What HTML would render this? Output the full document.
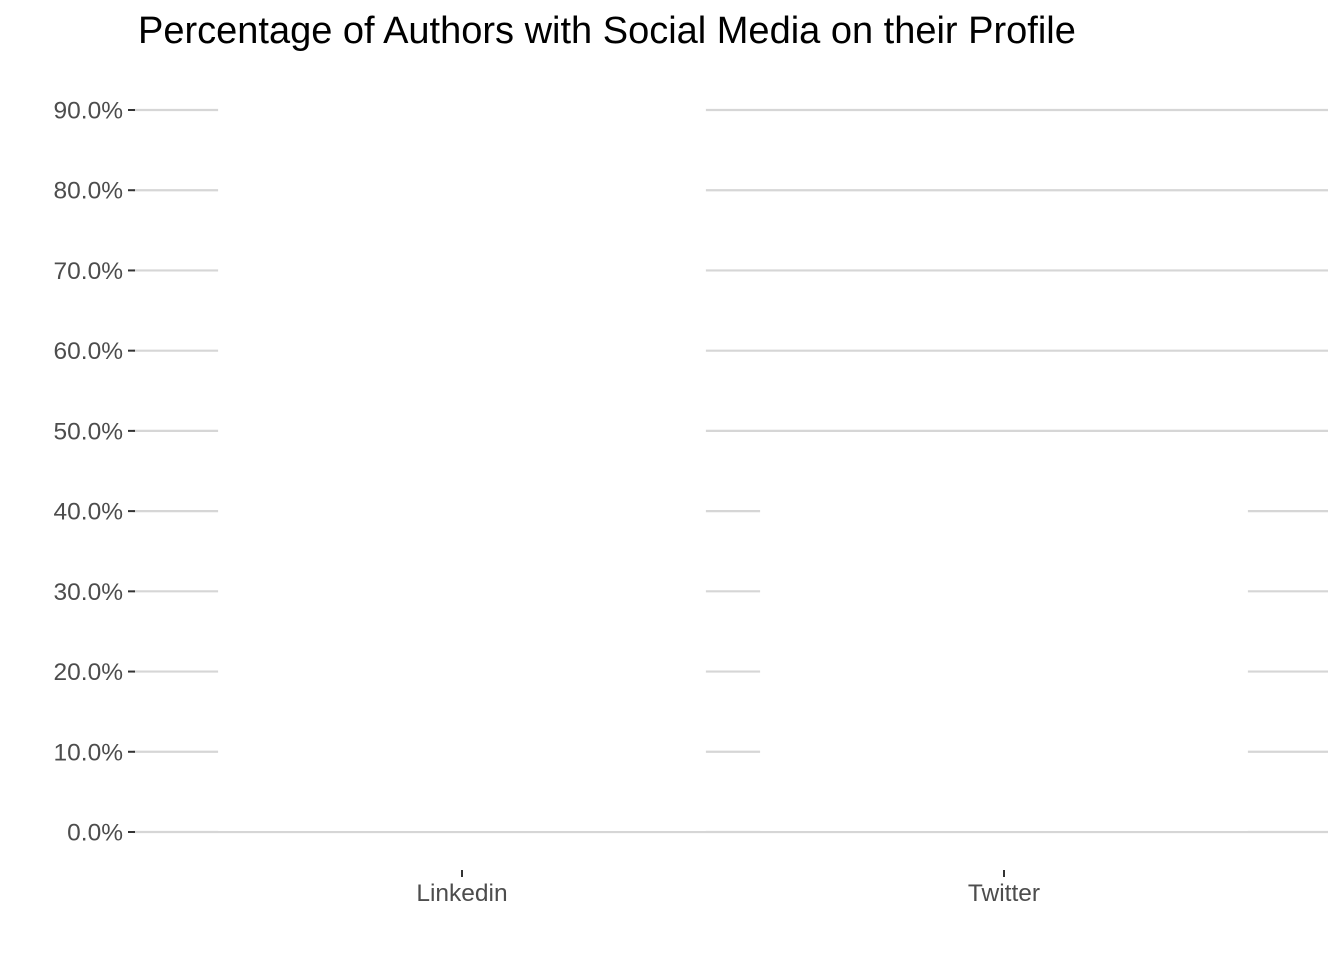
<!DOCTYPE html>
<html><head><meta charset="utf-8"><style>
html,body{margin:0;padding:0;background:#fff;}
svg{display:block;font-family:"Liberation Sans",Arial,sans-serif;}
</style></head><body>
<svg id="chart" width="1344" height="960">
<text x="138" y="43" font-size="38" fill="#000">Percentage of Authors with Social Media on their Profile</text>
<g id="grid"></g><g id="bars"></g><g id="axes"></g>
</svg>
<script>
const categories = ["Linkedin", "Twitter"];
const values = [0.95, 0.45];
const yTicks = [0, 0.1, 0.2, 0.3, 0.4, 0.5, 0.6, 0.7, 0.8, 0.9];
const yTickLabels = ["0.0%","10.0%","20.0%","30.0%","40.0%","50.0%","60.0%","70.0%","80.0%","90.0%"];

const NS = "http://www.w3.org/2000/svg";
const left = 133, right = 1328, y0 = 832, y90 = 110;
const y = v => y0 - v * (y0 - y90) / 0.9;
const band = 542;
const xc = i => 462 + band * i;
const barW = band * 0.9;
function mk(tag, attrs, parent) {
  const e = document.createElementNS(NS, tag);
  for (const k in attrs) e.setAttribute(k, attrs[k]);
  document.getElementById(parent).appendChild(e);
  return e;
}
yTicks.forEach((t, i) => {
  const g = mk("line", {x1: left, x2: right, y1: y(t), y2: y(t), stroke: "#d6d6d6", "stroke-width": 2.2}, "grid");
  
  
  const tk = mk("line", {x1: 128, x2: 135, y1: y(t), y2: y(t), stroke: "#333", "stroke-width": 2}, "axes");
  
  
  const lb = mk("text", {x: 123, y: y(t) + 8.5, "text-anchor": "end", "font-size": 24.5, fill: "#4d4d4d"}, "axes");
  lb.textContent = yTickLabels[i];
  
  
});
categories.forEach((c, i) => {
  const b = mk("rect", {x: xc(i) - barW / 2, y: y(values[i]), width: barW, height: y0 - y(values[i]) - 1, fill: "#fff"}, "bars");
  
  
  const tk = mk("line", {x1: xc(i), x2: xc(i), y1: 870, y2: 877, stroke: "#333", "stroke-width": 2}, "axes");
  
  
  const lb = mk("text", {x: xc(i), y: 901, "text-anchor": "middle", "font-size": 24.5, fill: "#4d4d4d"}, "axes");
  lb.textContent = c;
  
  
});
</script>
</body></html>
